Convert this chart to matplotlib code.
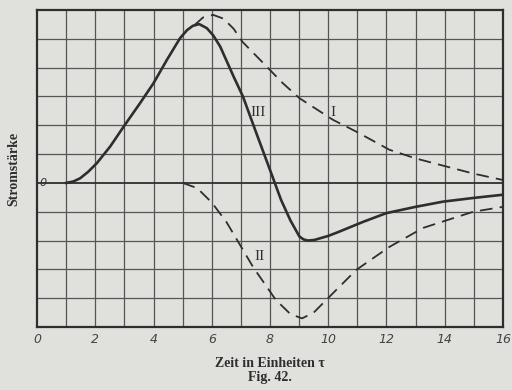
import matplotlib
matplotlib.use("Agg")
import matplotlib.pyplot as plt

# curve III (solid) = resulting current
x3 = [1.0, 1.25, 1.48, 1.75, 2.05, 2.51, 3.0, 3.54, 4.0, 4.46, 4.91, 5.15, 5.35, 5.57, 5.83, 6.05,
      6.29, 6.75, 7.07, 7.53, 8.0, 8.38, 8.7, 9.01, 9.15, 9.3, 9.52, 10.0, 10.38, 11.2, 11.99,
      13.0, 13.94, 15.0, 16.0]
y3 = [0.0, 0.05, 0.16, 0.38, 0.68, 1.26, 1.99, 2.77, 3.46, 4.27, 5.02, 5.3, 5.45, 5.51, 5.37, 5.12,
      4.73, 3.69, 3.0, 1.73, 0.45, -0.59, -1.3, -1.86, -1.96, -2.0, -1.98, -1.84, -1.69, -1.35, -1.05,
      -0.83, -0.65, -0.52, -0.41]

# curve I (dashed, upper)
x1 = [5.4, 5.7, 6.05, 6.4, 6.75, 7.05, 7.66, 8.44, 9.01, 10.16, 10.96, 12.1, 13.0, 14.05, 15.0, 16.0]
y1 = [5.47, 5.74, 5.83, 5.7, 5.35, 4.9, 4.27, 3.46, 2.94, 2.19, 1.78, 1.15, 0.85, 0.57, 0.32, 0.1]

# curve II (dashed, lower)
x2 = [5.0, 5.5, 6.0, 6.5, 6.87, 7.42, 8.2, 8.7, 9.1, 9.5, 10.03, 10.96, 12.1, 13.26, 14.98, 16.0]
y2 = [0.0, -0.18, -0.68, -1.35, -1.98, -2.92, -4.06, -4.55, -4.7, -4.5, -3.96, -3.02, -2.22, -1.56, -1.0, -0.83]

xticks = [0, 2, 4, 6, 8, 10, 12, 14, 16]

paper = "#e0e0dd"
ink = "#2e2e2e"
grid = "#555555"

fig = plt.figure(figsize=(5.12, 3.9), dpi=100, facecolor=paper)
ax = fig.add_axes([0.0723, 0.1615, 0.9101, 0.8129])
ax.set_facecolor(paper)

ax.set_xlim(0, 16)
ax.set_ylim(-5, 6)
for v in range(1, 16):
    ax.axvline(v, color=grid, lw=0.9, zorder=1)
for v in range(-4, 6):
    ax.axhline(v, color=ink if v == 0 else grid, lw=1.3 if v == 0 else 0.9, zorder=1)

ax.plot(x3, y3, color=ink, lw=1.9, zorder=3, solid_joinstyle="round")
ax.plot(x1, y1, color=ink, lw=1.3, dashes=(7, 4), zorder=3)
ax.plot(x2, y2, color=ink, lw=1.3, dashes=(7, 4), zorder=3)

roman = dict(family="Liberation Serif", fontsize=11, color=ink, ha="center", va="center")
ax.text(7.6, 2.45, "III", **roman)
ax.text(10.17, 2.45, "I", **roman)
ax.text(7.63, -2.57, "II", **roman)
ax.text(0.1, 0.0, "0", style="italic", fontsize=8, color=ink, va="center")

for s in ax.spines.values():
    s.set_color(ink)
    s.set_linewidth(1.6)

ax.set_xticks(xticks)
ax.set_xticklabels([str(t) for t in xticks], style="italic", fontsize=9, color="#444444")
ax.set_yticks([])
ax.tick_params(axis="x", length=0, pad=4)

ax.set_xlabel("Zeit in Einheiten τ\nFig. 42.", family="Liberation Serif", fontsize=10,
              fontweight="bold", color=ink, labelpad=8, linespacing=1.15)
ax.set_ylabel("Stromstärke", family="Liberation Serif", fontsize=10, fontweight="bold",
              color=ink, labelpad=12)

fig.savefig("out.png", dpi=100, facecolor=paper)
